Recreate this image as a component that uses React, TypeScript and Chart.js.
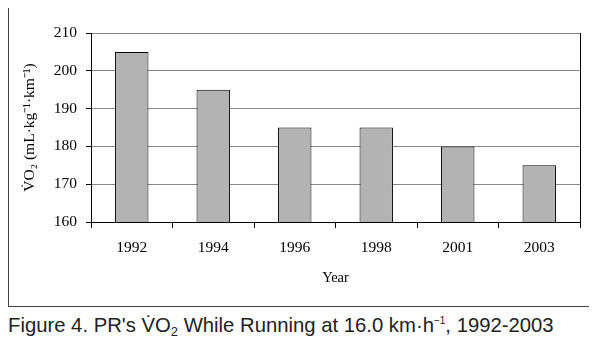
import React, { useEffect, useRef } from "react";
import { Chart, registerables } from "chart.js";

Chart.register(...registerables);

const years = ["1992", "1994", "1996", "1998", "2001", "2003"];
const vo2Values = [205, 195, 185, 185, 180, 175];
const yMin = 160;
const yMax = 210;
const yStep = 10;
const yTitle = "V\u0307O\u2082 (mL·kg\u207B\u00B9·km\u207B\u00B9)";
const xTitle = "Year";

export default function App() {
  const ref = useRef<HTMLCanvasElement | null>(null);

  useEffect(() => {
    if (!ref.current) return;
    const serif = "'Liberation Serif', 'Times New Roman', serif";
    const chart = new Chart(ref.current, {
      type: "bar",
      data: {
        labels: years,
        datasets: [
          {
            data: vo2Values,
            backgroundColor: "#b3b3b3",
            borderColor: "#000000",
            borderWidth: 1,
            categoryPercentage: 1,
            barPercentage: 0.41,
          },
        ],
      },
      options: {
        responsive: false,
        animation: false,
        layout: { padding: { left: 0, right: 11, top: 28, bottom: 0 } },
        plugins: { legend: { display: false }, tooltip: { enabled: false } },
        scales: {
          x: {
            grid: {
              offset: true,
              drawOnChartArea: false,
              drawTicks: true,
              tickLength: 6,
              tickColor: "#000000",
            },
            border: { color: "#000000", width: 1 },
            ticks: {
              color: "#000000",
              font: { family: serif, size: 15.5 },
              padding: 11,
              maxRotation: 0,
            },
            title: {
              display: true,
              text: xTitle,
              color: "#000000",
              font: { family: serif, size: 14.5 },
              padding: { top: 0, bottom: 19 },
            },
            afterFit: (s: any) => {
              s.height = 84;
            },
          },
          y: {
            min: yMin,
            max: yMax,
            grid: {
              color: "#888888",
              lineWidth: 1,
              tickLength: 5,
              tickColor: "#000000",
            },
            border: { color: "#000000", width: 1 },
            ticks: {
              stepSize: yStep,
              color: "#000000",
              font: { family: serif, size: 15.5 },
              padding: 9,
            },
            title: {
              display: true,
              text: yTitle,
              color: "#000000",
              font: { family: serif, size: 15.5 },
              padding: { top: 11.5, bottom: 0 },
            },
            afterFit: (s: any) => {
              s.width = 82;
            },
          },
          y2: {
            position: "right",
            min: yMin,
            max: yMax,
            grid: { drawOnChartArea: false, drawTicks: false },
            border: { color: "#000000", width: 1 },
            ticks: { display: false },
            afterFit: (s: any) => {
              s.width = 0;
            },
          },
        },
      },
    });
    return () => chart.destroy();
  }, []);

  return (
    <div>
      <div
        style={{
          position: "relative",
          top: -4,
          width: 584,
          height: 303,
          border: "1px solid #444",
          boxSizing: "border-box",
          background: "#fff",
        }}
      >
        <canvas ref={ref} width={582} height={301} style={{ display: "block" }} />
      </div>
      <div
        style={{
          position: "relative",
          top: -4,
          marginTop: 7,
          fontFamily: "'Liberation Sans', Arial, sans-serif",
          fontSize: 20.3,
          lineHeight: "23px",
          color: "#222",
          whiteSpace: "nowrap",
        }}
      >
        Figure 4. PR's V{"\u0307"}O
        <sub style={{ fontSize: 13, lineHeight: 0, verticalAlign: "-4px" }}>2</sub> While Running at 16.0 km·h
        <sup style={{ fontSize: 10, lineHeight: 0, verticalAlign: "8px" }}>{"\u2212"}1</sup>, 1992-2003
      </div>
    </div>
  );
}
